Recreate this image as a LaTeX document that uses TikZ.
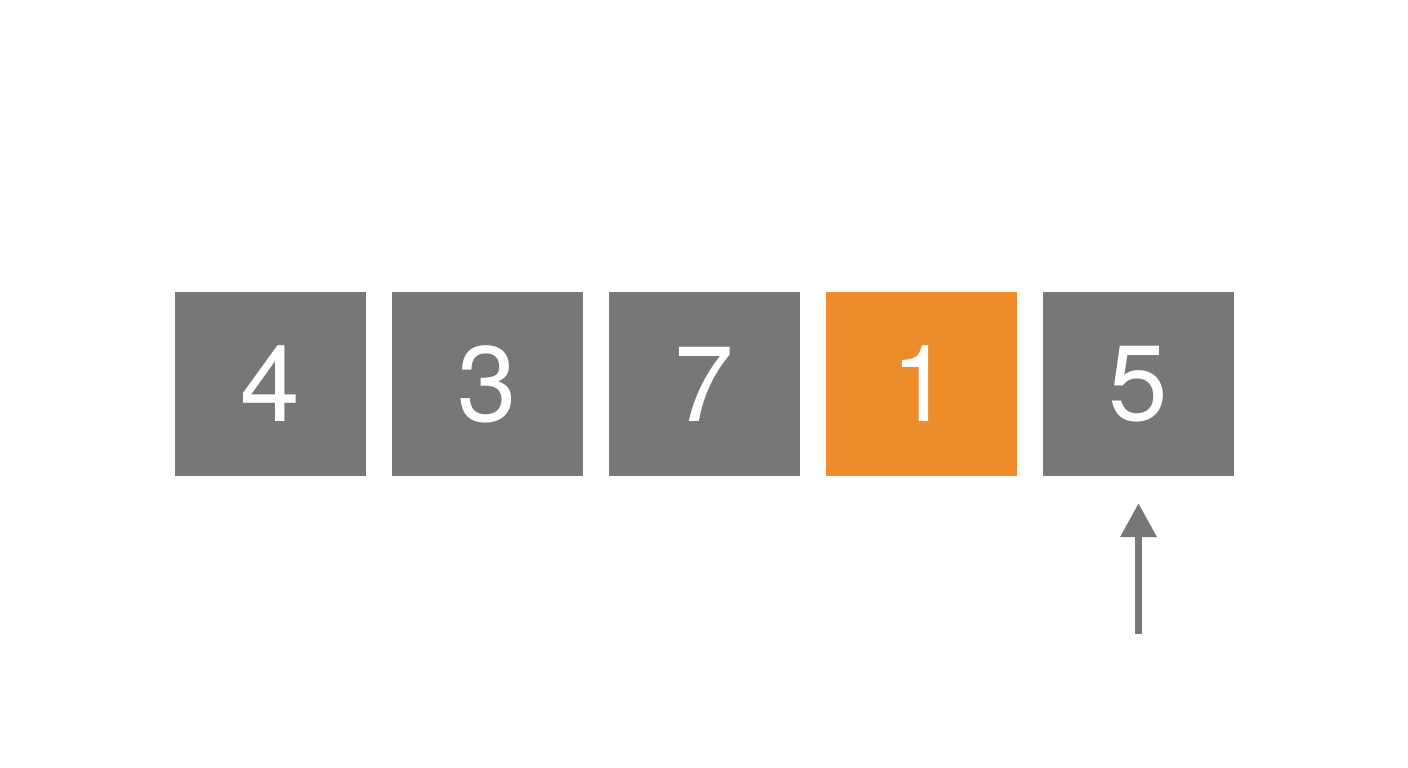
\documentclass[tikz,border=0pt]{standalone}
\usepackage{fontspec}
\setmainfont{TeX Gyre Heros}
\usetikzlibrary{arrows.meta}
\definecolor{boxgray}{HTML}{777777}
\definecolor{boxorange}{HTML}{EE8B2A}
\definecolor{arrowgray}{HTML}{777777}
\begin{document}
\begin{tikzpicture}[x=1pt,y=1pt,
  cell/.style={fill=boxgray, draw=none, minimum width=191pt, minimum height=184pt, inner sep=0pt,
    text=white, font=\fontsize{107}{107}\selectfont},
  hot/.style={cell, fill=boxorange}]
\fill[white] (0,0) rectangle (1408,768);
\useasboundingbox (0,0) rectangle (1408,768);
\node[cell] (c1) at (270.5,384) {4};
\node[cell] (c2) at (487.5,384) {3};
\node[cell] (c3) at (704.5,384) {7};
\node[hot]  (c4) at (921.5,384) {1};
\node[cell] (c5) at (1138.5,384) {5};
\coordinate (p) at (1138.5,134);
\draw[arrowgray, line width=7pt, -{Triangle[width=35pt,length=34pt]}, shorten >=27pt] (p) -- (c5.south);
\end{tikzpicture}
\end{document}
